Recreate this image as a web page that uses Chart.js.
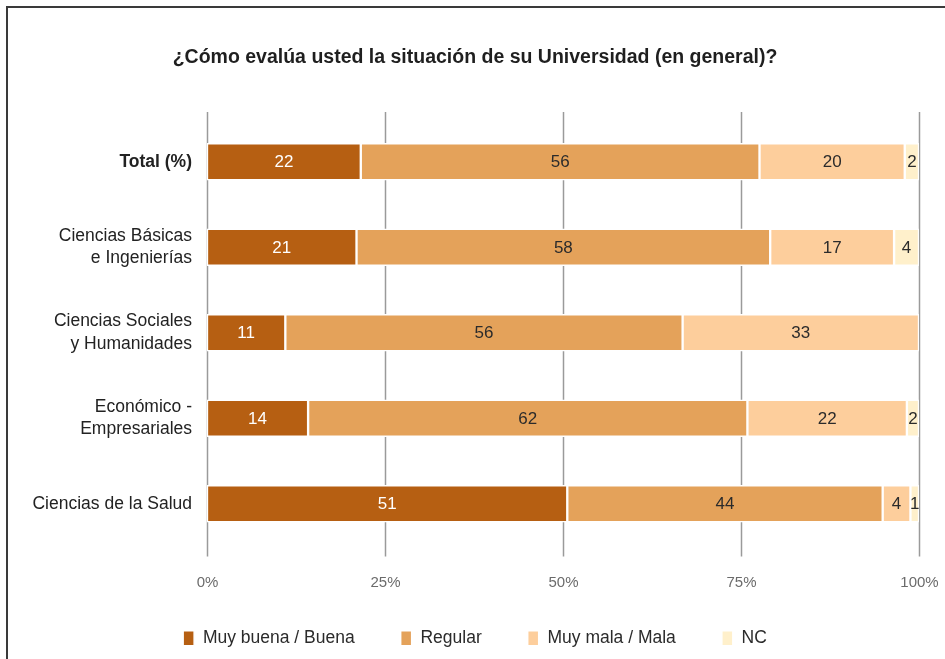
<!DOCTYPE html>
<html>
<head>
<meta charset="utf-8">
<script src="https://cdn.jsdelivr.net/npm/chart.js@4/dist/chart.umd.min.js"></script>
<style>
  html, body { margin:0; padding:0; background:#fff; overflow:hidden; }
  #frame { position:absolute; left:6px; top:6px; width:960px; height:700px; border-left:2px solid #3a3a3a; border-top:2px solid #3a3a3a; }
  #wrap { position:absolute; left:0; top:0; width:945px; height:659px; }
</style>
</head>
<body>
<div id="frame"></div>
<div id="wrap"><canvas id="chart" width="945" height="659"></canvas></div>
<script>
/* ── Data ─────────────────────────────────────────────── */
const categories = [
  "Total (%)",
  ["Ciencias Básicas", "e Ingenierías"],
  ["Ciencias Sociales", "y Humanidades"],
  ["Económico -", "Empresariales"],
  "Ciencias de la Salud"
];
const muyBuena = [21.6, 21.0, 11.0, 14.2, 50.6];
const regular  = [56.0, 58.1, 55.8, 61.7, 44.3];
const muyMala  = [20.4, 17.4, 33.2, 22.4,  3.9];
const nc       = [ 2.0,  3.5,  0.0,  1.7,  1.2];
const xTicks   = [0, 25, 50, 75, 100];

const seriesNames  = ["Muy buena / Buena", "Regular", "Muy mala / Mala", "NC"];
const seriesColors = ["#B65F12", "#E4A25A", "#FDCE9C", "#FFF0CB"];
const labelColors  = ["#ffffff", "#2b2b2b", "#2b2b2b", "#2b2b2b"];

const FONT = "'Liberation Sans', Arial, sans-serif";

/* ── Plugins ──────────────────────────────────────────── */
// vertical grid lines (a bit taller than the plot) + percent tick labels
const axisPlugin = {
  id: "xAxisDraw",
  beforeDatasetsDraw(chart) {
    const { ctx, chartArea, scales } = chart;
    ctx.save();
    ctx.strokeStyle = "#9a9a9a";
    ctx.lineWidth = 1.5;
    ctx.fillStyle = "#6b6b6b";
    ctx.font = "15px " + FONT;
    ctx.textAlign = "center";
    ctx.textBaseline = "middle";
    xTicks.forEach(v => {
      const x = Math.round(scales.x.getPixelForValue(v)) + 0.5;
      ctx.beginPath();
      ctx.moveTo(x, chartArea.top - 7);
      ctx.lineTo(x, chartArea.bottom + 10);
      ctx.stroke();
      ctx.fillText(v + "%", x, chartArea.bottom + 36);
    });
    ctx.restore();
  }
};

// value labels centred in each segment
const valuePlugin = {
  id: "valueLabels",
  afterDatasetsDraw(chart) {
    const { ctx } = chart;
    ctx.save();
    ctx.font = "17px " + FONT;
    ctx.textAlign = "center";
    ctx.textBaseline = "middle";
    chart.data.datasets.forEach((ds, i) => {
      chart.getDatasetMeta(i).data.forEach((bar, j) => {
        const v = ds.data[j];
        if (!v) return;
        ctx.fillStyle = labelColors[i];
        ctx.fillText(Math.round(v), (bar.x + bar.base) / 2, bar.y + 1);
      });
    });
    ctx.restore();
  }
};

/* ── Chart ────────────────────────────────────────────── */
const seriesData = [muyBuena, regular, muyMala, nc];

new Chart(document.getElementById("chart").getContext("2d"), {
  type: "bar",
  data: {
    labels: categories,
    datasets: seriesData.map((d, i) => ({
      label: seriesNames[i], data: d,
      backgroundColor: seriesColors[i],
      borderColor: "#ffffff", borderWidth: 1.5, borderSkipped: false,
      barThickness: 37
    }))
  },
  options: {
    indexAxis: "y",
    responsive: false, animation: false,
    layout: { padding: { left: 31, right: 26, top: 0, bottom: 2 } },
    plugins: {
      title: {
        display: true,
        text: "¿Cómo evalúa usted la situación de su Universidad (en general)?",
        color: "#1f1f1f",
        font: { family: FONT, size: 19.5, weight: "bold" },
        padding: { top: 46, bottom: 49.6 }
      },
      legend: {
        position: "bottom",
        labels: {
          boxWidth: 11, boxHeight: 15, padding: 46,
          color: "#2b2b2b",
          font: { family: FONT, size: 17.5 }
        }
      },
      tooltip: { enabled: false }
    },
    scales: {
      x: {
        stacked: true, min: 0, max: 100,
        afterFit: s => { s.height = 37; s.paddingLeft = 0; s.paddingRight = 0; },
        grid: { display: false, drawTicks: false },
        border: { display: false },
        ticks: { display: false }
      },
      y: {
        stacked: true,
        afterFit: s => { s.width = 176; },
        grid: { display: false, drawTicks: false },
        border: { display: false },
        ticks: {
          padding: 15, color: "#222",
          font: c => ({ family: FONT, size: 17.5, weight: c.index === 0 ? "bold" : "normal", lineHeight: 1.3 })
        }
      }
    }
  },
  plugins: [axisPlugin, valuePlugin]
});
</script>
</body>
</html>
